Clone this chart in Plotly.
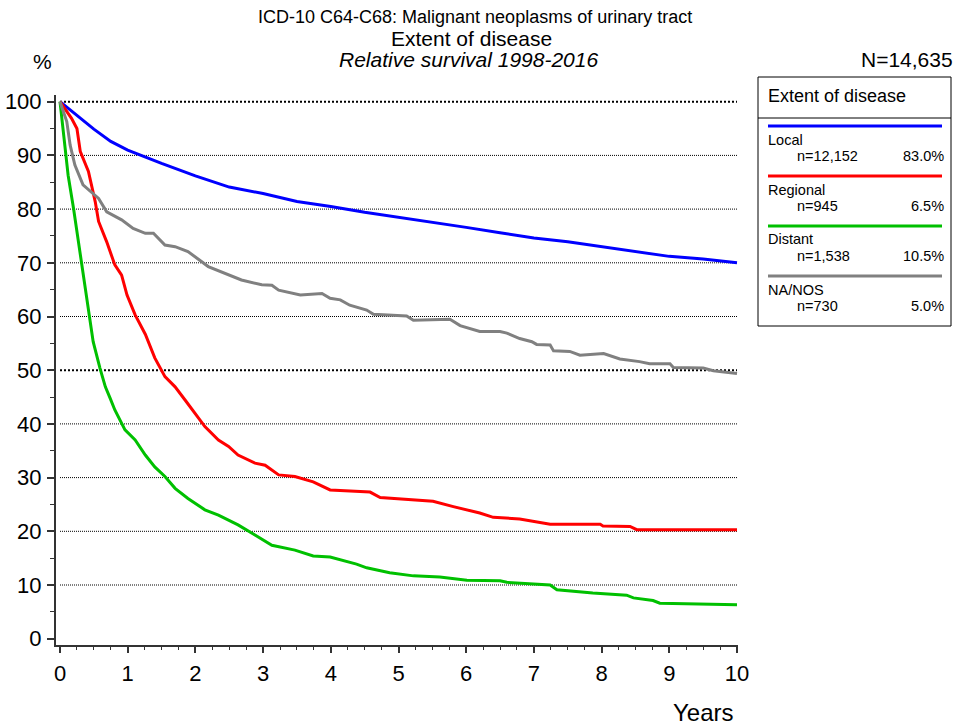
import plotly.graph_objects as go

# ---------------- data ----------------
t_local = [0, 0.25, 0.5, 0.75, 1, 1.5, 2, 2.5, 3, 3.5, 4, 4.5, 5, 5.5, 6, 6.5, 7, 7.5, 8, 8.5, 9, 9.5, 10]
local = [100, 97.4, 94.9, 92.6, 91.0, 88.5, 86.2, 84.1, 82.9, 81.4, 80.5, 79.4, 78.5, 77.6, 76.6, 75.6, 74.6, 73.9, 73.0, 72.1, 71.2, 70.7, 70.0]

t_regional = [0, 0.17, 0.25, 0.3, 0.42, 0.52, 0.57, 0.69, 0.81, 0.91, 0.99, 1.11, 1.26, 1.4, 1.55, 1.7, 1.85, 1.99, 2.14, 2.34,
              2.49, 2.63, 2.88, 3.03, 3.23, 3.47, 3.74, 3.99, 4.58, 4.73, 5.51, 5.81, 6.2, 6.4, 6.79, 7.24, 7.98, 8.02, 8.42, 8.52, 10]
regional = [100, 96.9, 95, 90.7, 87, 81.4, 77.7, 73.9, 69.6, 67.7, 64, 60.3, 56.7, 52.3, 48.8, 46.9, 44.4, 42, 39.5, 37,
            35.8, 34.2, 32.7, 32.3, 30.5, 30.2, 29.2, 27.7, 27.3, 26.3, 25.6, 24.6, 23.4, 22.6, 22.3, 21.3, 21.3, 21.0, 20.9, 20.3, 20.3]

t_distant = [0, 0.074, 0.12, 0.2, 0.27, 0.34, 0.42, 0.49, 0.59, 0.67, 0.74, 0.81, 0.96, 1.11, 1.26, 1.4, 1.55, 1.7, 1.89, 2.14,
             2.34, 2.63, 2.88, 3.13, 3.47, 3.74, 3.99, 4.38, 4.53, 4.87, 5.22, 5.61, 6.01, 6.5, 6.6, 7.24, 7.34, 7.87, 8.37, 8.47,
             8.76, 8.86, 10]
distant = [100, 91.9, 86.3, 80.1, 73.9, 67.7, 61.5, 55.3, 50.4, 46.9, 44.8, 42.6, 38.9, 37.0, 34.2, 32.0, 30.2, 28.0, 26.1, 24.0,
           23.0, 21.2, 19.3, 17.4, 16.5, 15.4, 15.2, 13.9, 13.2, 12.3, 11.7, 11.5, 10.9, 10.8, 10.5, 10.0, 9.1, 8.5, 8.1, 7.6,
           7.1, 6.6, 6.3]

t_nanos = [0, 0.1, 0.15, 0.22, 0.34, 0.57, 0.69, 0.91, 1.08, 1.26, 1.38, 1.55, 1.7, 1.89, 2.19, 2.39, 2.68, 2.98, 3.13, 3.23,
           3.35, 3.55, 3.87, 3.99, 4.14, 4.28, 4.53, 4.63, 5.12, 5.22, 5.76, 5.91, 6.2, 6.5, 6.6, 6.79, 6.97, 7.04, 7.24, 7.29,
           7.53, 7.68, 8.03, 8.27, 8.56, 8.71, 9.01, 9.06, 9.5, 9.65, 10]
nanos = [100, 96.3, 91.9, 88.2, 84.5, 82.0, 79.5, 78.0, 76.4, 75.5, 75.5, 73.3, 73.0, 72.1, 69.3, 68.3, 66.8, 65.9, 65.8, 64.9,
         64.6, 64.0, 64.3, 63.4, 63.1, 62.1, 61.2, 60.4, 60.1, 59.3, 59.5, 58.3, 57.2, 57.2, 56.9, 55.9, 55.3, 54.8, 54.7, 53.6,
         53.5, 52.8, 53.1, 52.1, 51.6, 51.2, 51.2, 50.5, 50.4, 49.9, 49.4]

series_names = ["Local", "Regional", "Distant", "NA/NOS"]
series_n = ["n=12,152", "n=945", "n=1,538", "n=730"]
series_pct = ["83.0%", "6.5%", "10.5%", "5.0%"]
series_colors = ["#0000FF", "#FF0000", "#00C000", "#808080"]
series_t = [t_local, t_regional, t_distant, t_nanos]
series_y = [local, regional, distant, nanos]

grid_values = [10, 20, 30, 40, 50, 60, 70, 80, 90, 100]
bold_grid = [50, 100]
x_ticks = list(range(0, 11))
y_ticks = list(range(0, 101, 10))

title1 = "ICD-10 C64-C68: Malignant neoplasms of urinary tract"
title2 = "Extent of disease"
title3 = "Relative survival 1998-2016"
total_n = "N=14,635"
legend_title = "Extent of disease"

# ---------------- layout helpers ----------------
W, H = 953, 726
L, R, T, B = 56, 738, 95, 645   # plot area in pixels


def px(x):
    return (x - L) / (R - L)


def py(y):
    return (B - y) / (B - T)


FONT = "Liberation Sans, Arial, sans-serif"

fig = go.Figure()

for name, tt, yy, col in zip(series_names, series_t, series_y, series_colors):
    fig.add_trace(go.Scatter(x=tt, y=yy, mode="lines", name=name,
                             line=dict(color=col, width=3), showlegend=False,
                             hoverinfo="x+y+name"))

shapes = []
for g in grid_values:
    if g in bold_grid:
        shapes.append(dict(type="line", xref="x", yref="y", x0=0, x1=10, y0=g, y1=g,
                           line=dict(color="black", width=2, dash="2px,2px"), layer="below"))
    else:
        shapes.append(dict(type="line", xref="x", yref="y", x0=0, x1=10, y0=g, y1=g,
                           line=dict(color="black", width=1, dash="1px,1px"), layer="below"))

# legend box
bx0, bx1, by0, by1 = 758, 951, 77, 326
shapes.append(dict(type="rect", xref="paper", yref="paper", x0=px(bx0), x1=px(bx1), y0=py(by1), y1=py(by0),
                   line=dict(color="black", width=1), fillcolor="rgba(0,0,0,0)"))
shapes.append(dict(type="line", xref="paper", yref="paper", x0=px(bx0), x1=px(bx1), y0=py(118), y1=py(118),
                   line=dict(color="black", width=1)))

annotations = [
    dict(text=title1, x=px(475), y=py(17), xref="paper", yref="paper", showarrow=False,
         xanchor="center", yanchor="middle", font=dict(size=18, family=FONT, color="black")),
    dict(text=title2, x=px(471), y=py(38), xref="paper", yref="paper", showarrow=False,
         xanchor="center", yanchor="middle", font=dict(size=21, family=FONT, color="black")),
    dict(text="<i>" + title3 + "</i>", x=px(468), y=py(60), xref="paper", yref="paper", showarrow=False,
         xanchor="center", yanchor="middle", font=dict(size=21, family=FONT, color="black")),
    dict(text="%", x=px(42), y=py(62), xref="paper", yref="paper", showarrow=False,
         xanchor="center", yanchor="middle", font=dict(size=21, family=FONT, color="black")),
    dict(text=total_n, x=px(955), y=py(60), xref="paper", yref="paper", showarrow=False,
         xanchor="right", yanchor="middle", font=dict(size=21, family=FONT, color="black")),
    dict(text="Years", x=px(703), y=py(712), xref="paper", yref="paper", showarrow=False,
         xanchor="center", yanchor="middle", font=dict(size=24, family=FONT, color="black")),
    dict(text=legend_title, x=px(766), y=py(96), xref="paper", yref="paper", showarrow=False,
         xanchor="left", yanchor="middle", font=dict(size=18, family=FONT, color="black")),
]

line_y = [126, 176, 226, 276]
for i, (nm, nn, pc, col) in enumerate(zip(series_names, series_n, series_pct, series_colors)):
    ly = line_y[i]
    shapes.append(dict(type="line", xref="paper", yref="paper", x0=px(768), x1=px(942), y0=py(ly), y1=py(ly),
                       line=dict(color=col, width=3)))
    annotations.append(dict(text=nm, x=px(766), y=py(ly + 13.5), xref="paper", yref="paper", showarrow=False,
                            xanchor="left", yanchor="middle", font=dict(size=14.5, family=FONT, color="black")))
    annotations.append(dict(text=nn, x=px(795), y=py(ly + 30), xref="paper", yref="paper", showarrow=False,
                            xanchor="left", yanchor="middle", font=dict(size=14.5, family=FONT, color="black")))
    annotations.append(dict(text=pc, x=px(946), y=py(ly + 30), xref="paper", yref="paper", showarrow=False,
                            xanchor="right", yanchor="middle", font=dict(size=14.5, family=FONT, color="black")))

# data range mapped to plot area: x 0 -> 60px, 10 -> 737px ; y 100 -> 101.7px, 0 -> 638.7px
xs = (737 - 60) / 10.0
ys = (638.7 - 101.7) / 100.0
x_range = [(L - 60) / xs, (R - 60) / xs]
y_range = [(638.7 - B) / ys, (638.7 - T) / ys]

fig.update_layout(
    width=W, height=H,
    margin=dict(l=L, r=W - R, t=T, b=H - B, pad=0, autoexpand=False),
    paper_bgcolor="white", plot_bgcolor="white",
    font=dict(family=FONT, color="black"),
    shapes=shapes, annotations=annotations,
    xaxis=dict(range=x_range, automargin=False, showgrid=False, zeroline=False, showline=True,
               linecolor="#333333", linewidth=2,
               tickmode="array", tickvals=x_ticks, ticktext=[str(v) for v in x_ticks],
               ticks="outside", ticklen=6, tickwidth=2, tickcolor="#333333",
               tickfont=dict(size=22, family=FONT, color="black"), ticklabelstandoff=2,
               minor=dict(dtick=0.25, tick0=0, ticks="outside", ticklen=3, tickwidth=1, tickcolor="#333333", showgrid=False),
               fixedrange=True),
    yaxis=dict(range=y_range, automargin=False, showgrid=False, zeroline=False, showline=True,
               linecolor="#333333", linewidth=2,
               tickmode="array", tickvals=y_ticks, ticktext=[str(v) for v in y_ticks],
               ticks="outside", ticklen=7, tickwidth=2, tickcolor="#333333",
               tickfont=dict(size=22, family=FONT, color="black"), ticklabelstandoff=1,
               minor=dict(dtick=5, tick0=0, ticks="outside", ticklen=4, tickwidth=1, tickcolor="#333333", showgrid=False),
               fixedrange=True),
)

fig.write_html("out.html")
